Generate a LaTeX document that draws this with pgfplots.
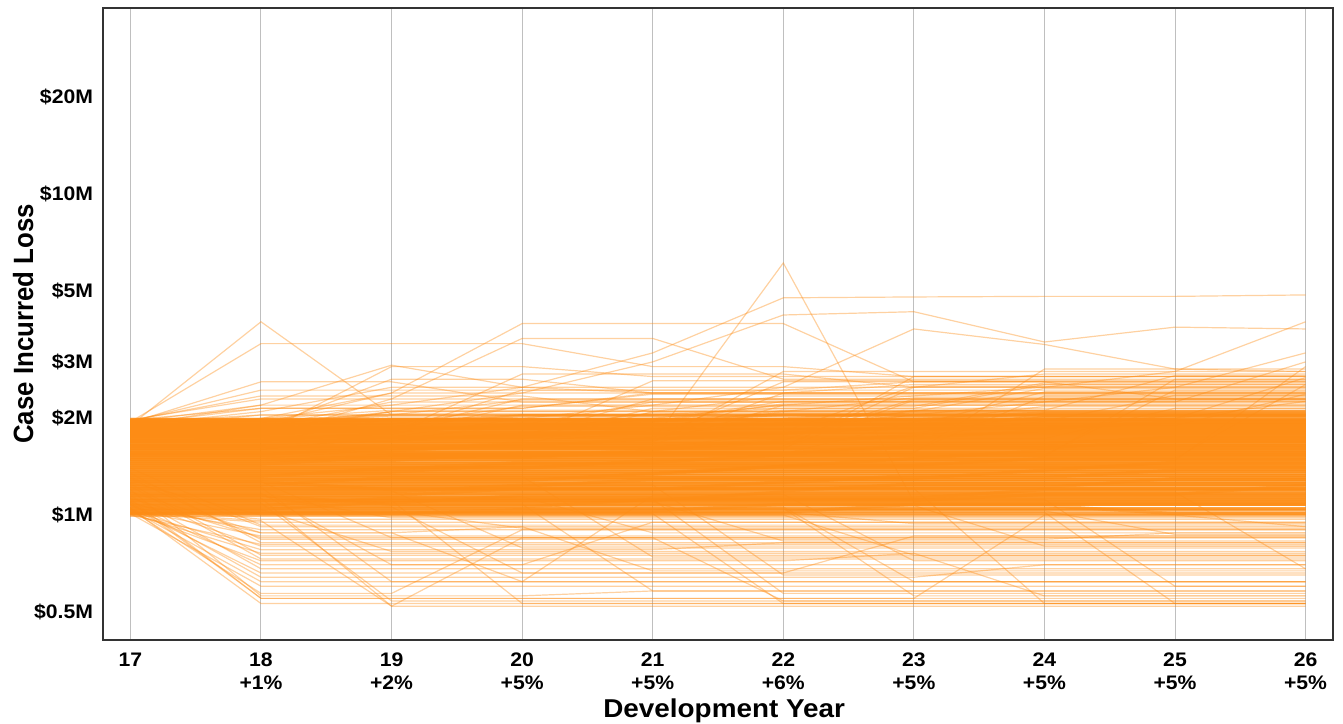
\documentclass[border=0pt]{standalone}
\usepackage{fontspec}
\setmainfont{Liberation Sans}[FakeStretch=1.08]
\newfontfamily\ylfont{Liberation Sans}
\usepackage{graphicx}
\usepackage{pgfplots}
\usepackage{pgfplotstable}
\pgfplotsset{compat=1.18}
\definecolor{lo}{RGB}{253,140,20}
% each row = one simulated path, values in $0.01M for development years 17..26
\pgfplotstableread[header=false]{
100 100 100 100 100 100 100 100 100 100
101 101 101 104 104 104 104 104 104 104
102 102 102 102 102 102 108 108 108 108
103 103 103 103 103 103 103 103 103 103
104 104 110 110 110 110 110 110 110 110
105 105 105 105 105 105 105 105 105 105
106 106 106 106 112 112 112 112 112 112
107 107 107 107 107 107 107 107 101 101
108 108 108 108 108 108 108 108 108 108
109 109 109 115 115 115 115 115 115 115
110 110 110 110 110 110 110 110 110 110
111 111 111 111 111 118 118 118 118 118
112 112 112 112 112 112 112 112 112 112
113 113 113 113 113 113 113 120 120 120
114 114 114 114 114 114 114 114 114 114
115 115 108 108 108 108 108 108 108 108
116 116 116 116 116 116 116 116 116 124
117 117 117 117 117 117 117 117 117 117
118 118 118 124 124 124 124 124 124 124
119 119 119 119 119 119 119 119 119 119
120 120 120 120 120 127 127 127 127 127
121 121 121 121 121 121 121 121 121 121
122 122 122 122 122 122 122 122 130 130
123 123 123 123 123 123 123 123 123 123
124 124 131 131 131 131 131 131 131 131
125 125 125 125 125 125 125 125 125 125
126 126 126 126 126 126 133 133 133 133
127 127 127 127 127 127 127 127 127 127
128 128 128 128 135 135 135 135 135 135
129 129 129 129 129 129 129 129 129 129
130 130 130 130 130 130 130 138 138 138
131 131 131 131 131 131 131 131 131 131
132 132 140 140 140 140 140 140 140 140
133 133 133 133 133 133 133 133 133 133
134 134 134 134 134 142 142 142 142 142
135 135 135 135 135 135 135 135 135 135
136 136 136 144 144 144 144 144 144 144
137 137 137 137 137 137 137 137 137 137
138 138 138 138 138 138 138 138 146 146
139 139 139 139 139 139 139 139 139 139
140 140 140 140 148 148 148 148 148 148
141 141 141 141 141 141 141 141 141 141
142 142 142 142 142 142 150 150 150 150
143 143 143 143 143 143 143 143 143 143
144 144 152 152 152 152 152 152 152 152
145 145 145 145 145 145 145 145 145 145
146 146 146 146 146 154 154 154 154 154
147 147 147 147 147 147 147 147 147 147
148 148 148 156 156 156 156 156 156 156
149 149 149 149 149 149 149 149 149 149
150 150 150 150 150 150 150 159 159 159
151 151 151 151 151 151 151 151 151 151
152 152 152 152 160 160 160 160 160 160
153 153 153 153 153 153 153 153 153 153
154 154 163 163 163 163 163 163 163 163
155 155 155 155 155 155 155 155 155 155
156 156 156 156 156 156 165 165 165 165
157 157 157 157 157 157 157 157 157 157
158 158 158 167 167 167 167 167 167 167
159 159 159 159 159 159 159 159 159 159
160 160 160 160 160 169 169 169 169 169
161 161 161 161 161 161 161 161 161 161
162 162 162 162 162 162 162 162 171 171
163 163 163 163 163 163 163 163 163 163
164 164 164 164 173 173 173 173 173 173
165 165 165 165 165 165 165 165 165 165
166 166 175 175 175 175 175 175 175 175
167 167 167 167 167 167 167 167 167 167
168 168 168 168 168 168 177 177 177 177
169 169 169 169 169 169 169 169 169 169
170 170 170 179 179 179 179 179 179 179
171 171 171 171 171 171 171 171 171 171
172 172 172 172 172 181 181 181 181 181
173 173 173 173 173 173 173 173 173 173
174 174 174 174 174 174 174 183 183 183
175 175 175 175 175 175 175 175 175 175
176 176 176 176 185 185 185 185 185 185
177 177 177 177 177 177 177 177 177 177
178 178 187 187 187 187 187 187 187 187
179 179 179 179 179 179 179 179 179 179
180 180 180 180 180 180 189 189 189 189
181 181 181 181 181 181 181 181 181 181
182 182 182 191 191 191 191 191 191 191
183 183 183 183 183 183 183 183 183 183
184 184 184 184 184 193 193 193 193 193
185 185 185 185 185 185 185 185 185 185
186 186 186 186 186 186 186 186 195 195
187 187 187 187 187 187 187 187 187 187
188 188 188 188 197 197 197 197 197 197
189 189 189 189 189 189 189 189 189 189
190 190 199 199 199 199 199 199 199 199
191 191 191 191 191 191 191 191 191 191
192 192 192 192 192 192 202 202 202 202
193 193 193 193 193 193 193 193 193 193
194 194 194 204 204 204 204 204 204 204
195 195 195 195 195 195 195 195 195 195
196 196 196 196 196 206 206 206 206 206
197 197 197 197 197 197 197 197 197 197
198 198 198 198 198 198 198 208 208 208
199 199 199 199 199 199 199 199 199 199
101 101 101 101 101 101 101 101 101 101
103 103 103 103 103 108 108 108 108 108
105 105 105 105 105 105 105 105 105 105
107 107 113 113 113 113 113 113 113 113
109 109 109 109 109 109 109 109 109 109
111 111 111 111 111 111 111 116 116 116
113 113 113 113 113 113 113 113 113 113
115 115 115 121 121 121 121 121 121 121
117 117 117 117 117 117 117 117 117 117
119 119 119 119 119 119 125 125 125 125
121 121 121 121 121 121 121 121 121 121
123 123 123 123 129 129 129 129 129 129
125 125 125 125 125 125 125 125 125 125
127 127 120 120 120 120 120 120 120 120
129 129 129 129 129 129 129 129 129 129
131 131 131 131 131 131 131 131 138 138
133 133 133 133 133 133 133 133 133 133
135 135 135 135 135 142 142 142 142 142
137 137 137 137 137 137 137 137 137 137
139 139 139 146 146 146 146 146 146 146
141 141 141 141 141 141 141 141 141 141
143 143 143 143 143 143 143 150 150 150
145 145 145 145 145 145 145 145 145 145
147 147 154 154 154 154 154 154 154 154
149 149 149 149 149 149 149 149 149 149
151 151 151 151 158 158 158 158 158 158
153 153 153 153 153 153 153 153 153 153
155 155 155 155 155 155 163 163 163 163
157 157 157 157 157 157 157 157 157 157
159 159 159 167 167 167 167 167 167 167
161 161 161 161 161 161 161 161 161 161
163 163 163 163 163 171 171 171 171 171
165 165 165 165 165 165 165 165 165 165
167 167 167 167 167 167 167 167 175 175
169 169 169 169 169 169 169 169 169 169
171 171 180 180 180 180 180 180 180 180
173 173 173 173 173 173 173 173 173 173
175 175 175 175 184 184 184 184 184 184
177 177 177 177 177 177 177 177 177 177
179 179 179 179 179 179 188 188 188 188
181 181 181 181 181 181 181 181 181 181
183 183 183 192 192 192 192 192 192 192
185 185 185 185 185 185 185 185 185 185
187 187 187 187 187 196 196 196 196 196
189 189 189 189 189 189 189 189 189 189
191 191 191 191 191 191 191 201 201 201
193 193 193 193 193 193 193 193 193 193
195 195 205 205 205 205 205 205 205 205
197 197 197 197 197 197 197 197 197 197
199 199 199 199 199 199 210 210 210 210
198 230 230 230 230 230 230 230 230 230
196 245 245 245 245 245 260 260 260 260
194 260 260 225 225 225 225 225 225 225
192 215 215 215 240 240 240 240 240 240
190 210 250 250 250 250 250 275 275 275
188 188 225 225 225 225 225 225 225 225
186 186 265 265 240 240 240 240 240 240
184 184 210 210 210 235 235 235 235 235
182 182 182 245 245 245 245 245 245 245
180 180 180 275 275 275 250 250 250 250
178 178 178 220 220 220 220 220 220 220
176 176 176 176 230 230 230 230 230 230
174 174 174 174 262 262 262 262 262 262
172 172 172 172 215 215 215 255 255 255
170 170 170 170 170 240 240 240 240 240
168 168 168 168 168 280 280 280 280 280
166 166 166 166 166 220 220 220 220 220
164 164 164 164 164 164 250 250 250 250
162 162 162 162 162 162 228 228 228 228
160 160 160 160 160 160 270 270 270 270
158 158 158 158 158 158 158 235 235 235
156 156 156 156 156 156 156 285 285 285
154 154 154 154 154 154 154 154 245 245
152 152 152 152 152 152 152 152 265 265
150 150 150 150 150 150 150 150 150 255
148 148 148 148 148 148 148 148 148 290
197 235 235 235 210 210 210 210 210 210
193 193 240 240 240 240 255 255 255 255
189 189 189 205 205 205 205 205 205 205
185 185 185 185 185 210 210 210 210 210
181 181 181 181 181 181 212 212 212 212
177 177 177 177 177 177 177 208 208 208
173 173 173 173 173 173 173 173 215 215
195 220 220 220 220 220 220 220 220 220
191 191 191 191 225 225 225 225 225 300
187 205 205 205 205 205 205 205 205 205
183 183 183 230 230 230 230 230 230 230
179 179 290 290 270 270 270 270 270 270
175 175 175 175 175 260 260 260 230 230
171 171 171 171 171 171 230 230 230 230
105 53 53 53 53 53 53 53 53 53
112 55 55 55 55 55 55 55 55 55
120 56 56 56 58 58 58 58 58 58
101 60 60 60 60 60 60 60 60 60
108 64 64 64 64 64 64 70 70 70
115 68 68 68 68 68 68 68 68 68
102 72 72 72 72 72 76 76 76 76
125 75 75 75 75 75 75 75 75 75
103 78 78 78 78 82 82 82 82 82
110 80 80 80 80 80 80 80 80 80
130 84 84 84 84 84 84 84 88 88
104 86 86 86 86 86 86 86 86 86
118 88 88 92 92 92 92 92 92 92
106 90 90 90 90 90 90 90 90 90
140 93 93 93 93 93 93 93 93 93
101 95 95 95 95 95 95 95 95 95
107 97 97 97 97 97 97 97 97 97
135 82 82 82 82 82 82 82 82 82
113 113 52 52 52 52 52 52 52 52
109 109 54 54 54 54 54 54 54 54
122 122 62 62 62 62 62 62 62 62
117 117 70 70 70 70 70 70 70 70
104 104 77 77 77 77 77 77 77 77
127 127 85 85 85 85 85 85 85 85
102 96 52 85 85 85 85 85 85 85
111 111 111 53 53 53 53 53 53 53
106 106 106 66 66 66 66 66 66 66
119 119 119 79 79 79 79 79 79 79
103 103 103 91 91 91 91 91 91 91
132 132 132 132 74 74 74 74 74 74
108 108 108 108 58 58 58 58 58 58
114 114 114 114 88 88 88 88 88 88
101 101 101 101 101 53 53 53 53 53
124 124 124 124 124 65 65 65 65 65
110 110 110 110 110 83 83 83 83 83
105 105 105 105 105 105 56 56 56 56
116 116 116 116 116 116 72 72 72 72
102 102 102 102 102 102 94 94 94 94
121 121 121 121 121 121 121 53 53 53
107 107 107 107 107 107 107 80 80 80
112 112 112 112 112 112 112 112 60 60
103 103 103 103 103 103 103 103 87 87
118 118 118 118 118 118 118 118 118 68
100 100 100 100 100 100 100 100 100 92
104 57 57 90 90 90 90 90 90 90
108 70 70 70 95 95 95 95 95 95
126 100 100 100 100 100 75 75 75 75
113 85 85 85 85 54 54 54 54 54
101 76 76 76 76 76 76 56 56 56
109 88 88 62 62 62 62 62 62 62
131 92 92 92 67 67 67 67 67 67
105 66 66 66 66 66 86 86 86 86
115 115 98 98 98 98 98 98 98 98
100 81 81 81 81 81 81 81 81 81
123 73 73 73 73 73 73 73 73 73
106 106 106 106 106 106 62 62 62 62
102 102 102 102 102 102 102 102 53 53
112 112 112 112 112 57 57 57 57 57
104 62 62 62 115 115 115 115 115 115
110 55 55 55 55 55 55 100 100 100
190 400 205 205 205 215 215 215 215 215
195 342 342 342 290 290 270 270 270 270
180 200 240 395 395 395 260 260 260 260
170 175 230 355 355 265 265 265 265 265
150 150 160 165 170 610 110 110 110 110
185 200 220 250 320 475 478 480 480 485
175 190 210 240 300 420 430 346 385 380
160 160 175 200 220 250 380 340 285 280
165 165 170 180 200 220 235 250 280 400
155 155 160 170 180 190 205 225 250 320
190 220 293 250 240 240 240 240 240 240
185 185 185 185 185 185 185 185 205 205
180 180 210 210 210 210 232 232 232 232
170 170 170 195 195 222 222 222 222 222
165 165 165 165 210 210 210 248 248 248
160 160 175 175 175 200 200 200 200 268
155 155 155 155 155 155 195 218 218 218
198 215 215 215 238 238 238 238 238 238
192 192 192 218 218 218 218 258 258 258
188 188 188 188 188 212 212 212 272 272
178 178 178 178 178 178 206 206 206 206
172 172 172 190 190 190 190 242 242 242
168 168 200 200 200 200 200 200 200 226
196 196 196 196 196 226 226 226 226 226
186 186 186 186 208 208 208 208 208 208
176 176 176 176 176 176 176 196 236 236
194 205 205 228 228 228 228 228 228 228
182 182 182 182 182 182 252 252 252 252
162 162 162 162 162 180 180 203 203 203
199 199 212 212 212 212 212 212 212 212
190 190 190 190 190 190 190 190 190 238
}\rawpaths
\pgfplotstabletranspose\paths\rawpaths
\begin{document}
\begin{tikzpicture}
\begin{axis}[
  scale only axis,
  width=615pt, height=316pt,
  ymode=log,
  xmin=16.79, xmax=26.21,
  ymin=40.8, ymax=3800,
  xtick={17,18,19,20,21,22,23,24,25,26},
  xticklabels={17,{18\\+1\%},{19\\+2\%},{20\\+5\%},{21\\+5\%},{22\\+6\%},{23\\+5\%},{24\\+5\%},{25\\+5\%},{26\\+5\%}},
  ytick={50,100,200,300,500,1000,2000},
  yticklabels={\$0.5M,\$1M,\$2M,\$3M,\$5M,\$10M,\$20M},
  yminorticks=false,
  major tick length=0pt,
  xmajorgrids,
  grid style={draw=black!25, line width=0.5pt},
  axis line style={draw=black!80, line width=0.9pt},
  tick label style={font=\bfseries\fontsize{9.8}{11.5}\selectfont},
  xticklabel style={align=center, yshift=-3pt},
  yticklabel style={xshift=-1.5pt},
  xlabel={Development Year},
  xlabel style={font=\bfseries\fontsize{12.9}{14}\selectfont, at={(axis description cs:0.505,0)}, anchor=base, yshift=-39pt},
  ylabel={\scalebox{1}[1.08]{\ylfont\bfseries\fontsize{12.9}{14}\selectfont Case Incurred Loss}},
  ylabel style={at={(axis description cs:-0.065,0.5)}, anchor=center, rotate=0},
]
\pgfplotsinvokeforeach{0,...,149}{
  \addplot[draw=lo, draw opacity=0.55, line width=1.6pt, no markers]
    table[x expr=\coordindex+17, y=#1] {\paths};
}
\pgfplotsinvokeforeach{150,...,280}{
  \addplot[draw=lo, draw opacity=0.4, line width=0.6pt, no markers]
    table[x expr=\coordindex+17, y=#1] {\paths};
}
\end{axis}
\pgfresetboundingbox
\path ([shift={(-51.5pt,-41.5pt)}]current axis.south west) rectangle ([shift={(5pt,4pt)}]current axis.north east);
\end{tikzpicture}
\end{document}
